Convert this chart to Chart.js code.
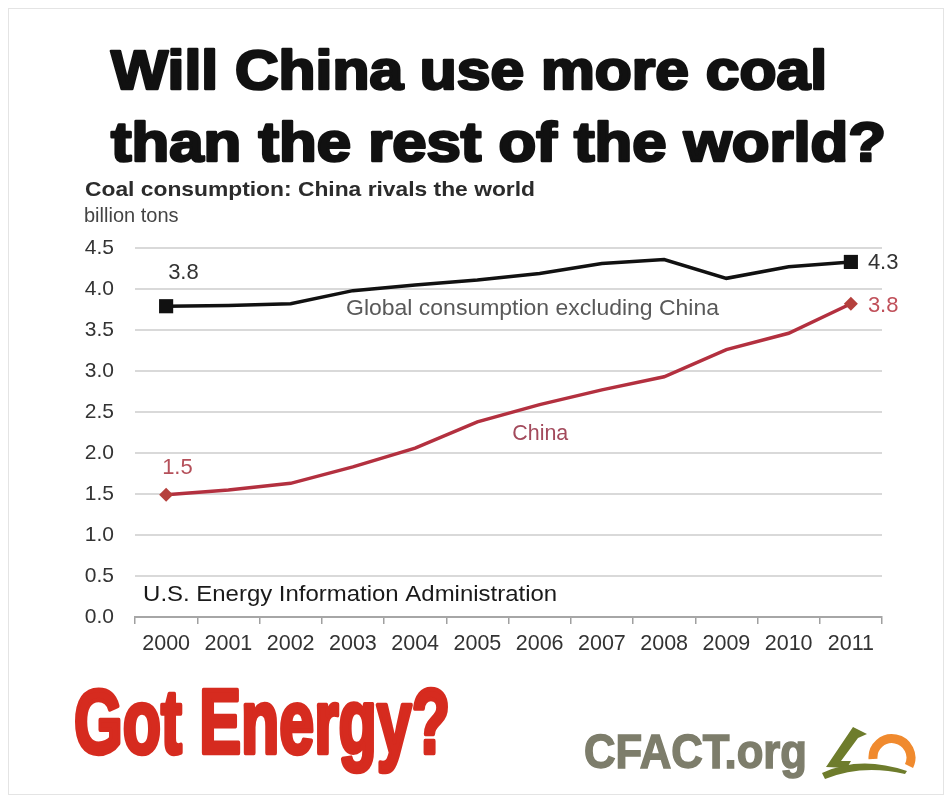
<!DOCTYPE html>
<html>
<head>
<meta charset="utf-8">
<title>Will China use more coal than the rest of the world?</title>
<script src="https://cdn.jsdelivr.net/npm/chart.js@4.4.0/dist/chart.umd.min.js"></script>
<style>
  html, body { margin: 0; padding: 0; background: #fff; }
  #wrap { position: relative; width: 952px; height: 803px; overflow: hidden; }
  #chart { position: absolute; left: 0; top: 0; }
  #deco { position: absolute; left: 0; top: 0; pointer-events: none; }
</style>
</head>
<body>
<div id="wrap">
  <canvas id="chart" width="952" height="803"></canvas>
  <svg id="deco" width="952" height="803" xmlns="http://www.w3.org/2000/svg">
    <rect x="8.5" y="8.5" width="935" height="786" fill="none" stroke="#e4e4e4" stroke-width="1"/>
    <g font-family="'Liberation Sans', Arial, sans-serif" font-weight="bold" fill="#111" stroke="#111" stroke-width="2.6" stroke-linejoin="round">
      <text x="111" y="89" font-size="55" textLength="716" lengthAdjust="spacingAndGlyphs">Will China use more coal</text>
      <text x="111" y="161" font-size="55" textLength="775" lengthAdjust="spacingAndGlyphs">than the rest of the world?</text>
    </g>
    <text x="85" y="196" font-family="'Liberation Sans', Arial, sans-serif" font-weight="bold" font-size="20.5" fill="#2b2b2b" textLength="450" lengthAdjust="spacingAndGlyphs">Coal consumption: China rivals the world</text>
    <text x="84" y="222" font-family="'Liberation Sans', Arial, sans-serif" font-size="20" fill="#444">billion tons</text>
    <text x="74" y="753" font-family="'Liberation Sans', Arial, sans-serif" font-weight="bold" font-size="90" fill="#d62b1f" stroke="#d62b1f" stroke-width="4.5" stroke-linejoin="round" textLength="376" lengthAdjust="spacingAndGlyphs">Got Energy?</text>
    <text x="584" y="768" font-family="'Liberation Sans', Arial, sans-serif" font-weight="bold" font-size="48" fill="#7d7d6b" stroke="#7d7d6b" stroke-width="1.5" textLength="223" lengthAdjust="spacingAndGlyphs">CFACT.org</text>
    <!-- logo -->
    <path d="M 826 767 L 853 727 L 867 734 L 858 738 L 841 761 L 851 761 L 847 768 Z" fill="#6e7c2c"/>
    <path d="M 822 773 Q 860 755 907 771 L 905 774 Q 862 764 825 779 Z" fill="#6e7c2c"/>
    <path d="M 873 759 A 19 19 0 1 1 909 766" fill="none" stroke="#f08a2e" stroke-width="9"/>
  </svg>
</div>
<script>
var years = ['2000', '2001', '2002', '2003', '2004', '2005', '2006', '2007', '2008', '2009', '2010', '2011'];
var globalExChina = [3.79, 3.80, 3.82, 3.98, 4.05, 4.11, 4.19, 4.31, 4.36, 4.13, 4.27, 4.33];
var china = [1.49, 1.55, 1.63, 1.83, 2.06, 2.38, 2.59, 2.77, 2.93, 3.26, 3.46, 3.82];
var yMin = 0;
var yMax = 4.5;
var yStep = 0.5;

var FONT = "'Liberation Sans', Arial, sans-serif";

// text notes drawn on the plot, placed in data space (category index, value)
var seriesNotes = [
	{ text: 'Global consumption excluding China', at: [2.89, 3.756], size: 22.5, width: 373, color: '#595959' },
	{ text: 'China', at: [5.56, 2.23], size: 21.5, width: 56, color: '#a34a5c' },
	{ text: 'U.S. Energy Information Administration', at: [-0.37, 0.27], size: 22, width: 414, color: '#1a1a1a' }
];

// end-point value labels: dataset, point index, pixel offset from the point
var valueNotes = [
	{ ds: 0, i: 0, dx: 2, dy: -33, color: '#333' },
	{ ds: 0, i: 11, dx: 17, dy: 1, color: '#333' },
	{ ds: 1, i: 0, dx: -4, dy: -27, color: '#b5505a' },
	{ ds: 1, i: 11, dx: 17, dy: 2, color: '#c0505a' }
];

function fitText(ctx, text, x, y, size, width, color) {
	ctx.save();
	ctx.font = size + 'px ' + FONT;
	var w = ctx.measureText(text).width;
	ctx.translate(x, y);
	if (width) ctx.scale(width / w, 1);
	ctx.fillStyle = color;
	ctx.textAlign = 'left';
	ctx.textBaseline = 'middle';
	ctx.fillText(text, 0, 0);
	ctx.restore();
}

var notesPlugin = {
	id: 'notes',
	afterDatasetsDraw: function(chart) {
		var ctx = chart.ctx;
		var xs = chart.scales.x, ys = chart.scales.y;
		seriesNotes.forEach(function(n) {
			fitText(ctx, n.text, xs.getPixelForValue(n.at[0]), ys.getPixelForValue(n.at[1]), n.size, n.width, n.color);
		});
		valueNotes.forEach(function(n) {
			var pt = chart.getDatasetMeta(n.ds).data[n.i];
			var v = chart.data.datasets[n.ds].data[n.i];
			fitText(ctx, v.toFixed(1), pt.x + n.dx, pt.y + n.dy, 22, 0, n.color);
		});
	}
};

function endsOnly(r) {
	return function(c) {
		return (c.dataIndex === 0 || c.dataIndex === years.length - 1) ? r : 0;
	};
}

new Chart(document.getElementById('chart'), {
	type: 'line',
	data: {
		labels: years,
		datasets: [
			{
				label: 'Global consumption excluding China',
				data: globalExChina,
				borderColor: '#111',
				borderWidth: 3.5,
				tension: 0,
				pointStyle: 'rect',
				pointRadius: endsOnly(10),
				pointBackgroundColor: '#111',
				pointBorderWidth: 0
			},
			{
				label: 'China',
				data: china,
				borderColor: '#b3303f',
				borderWidth: 3.5,
				tension: 0,
				pointStyle: 'rectRot',
				pointRadius: endsOnly(7),
				pointBackgroundColor: '#b5403c',
				pointBorderWidth: 0
			}
		]
	},
	options: {
		responsive: false,
		animation: false,
		devicePixelRatio: 1,
		layout: { padding: { left: 85, right: 70, top: 248, bottom: 136 } },
		plugins: {
			legend: { display: false },
			title: { display: false },
			tooltip: { enabled: false }
		},
		scales: {
			x: {
				offset: true,
				afterFit: function(s) { s.height = 50; },
				grid: { drawOnChartArea: false, drawTicks: true, tickLength: 7, color: '#a0a0a0', lineWidth: 1.5, offset: true },
				border: { display: true, color: '#a6a6a6', width: 2 },
				ticks: { font: { family: FONT, size: 21.5 }, color: '#333', padding: 7, maxRotation: 0, autoSkip: false }
			},
			y: {
				min: yMin,
				max: yMax,
				afterFit: function(s) { s.width = 50; },
				grid: { color: '#d9d9d9', lineWidth: 2, drawTicks: false },
				border: { display: false },
				ticks: {
					stepSize: yStep,
					padding: 21,
					font: { family: FONT, size: 21 },
					color: '#333',
					callback: function(v) { return v.toFixed(1); }
				}
			}
		}
	},
	plugins: [notesPlugin]
});
</script>
</body>
</html>
